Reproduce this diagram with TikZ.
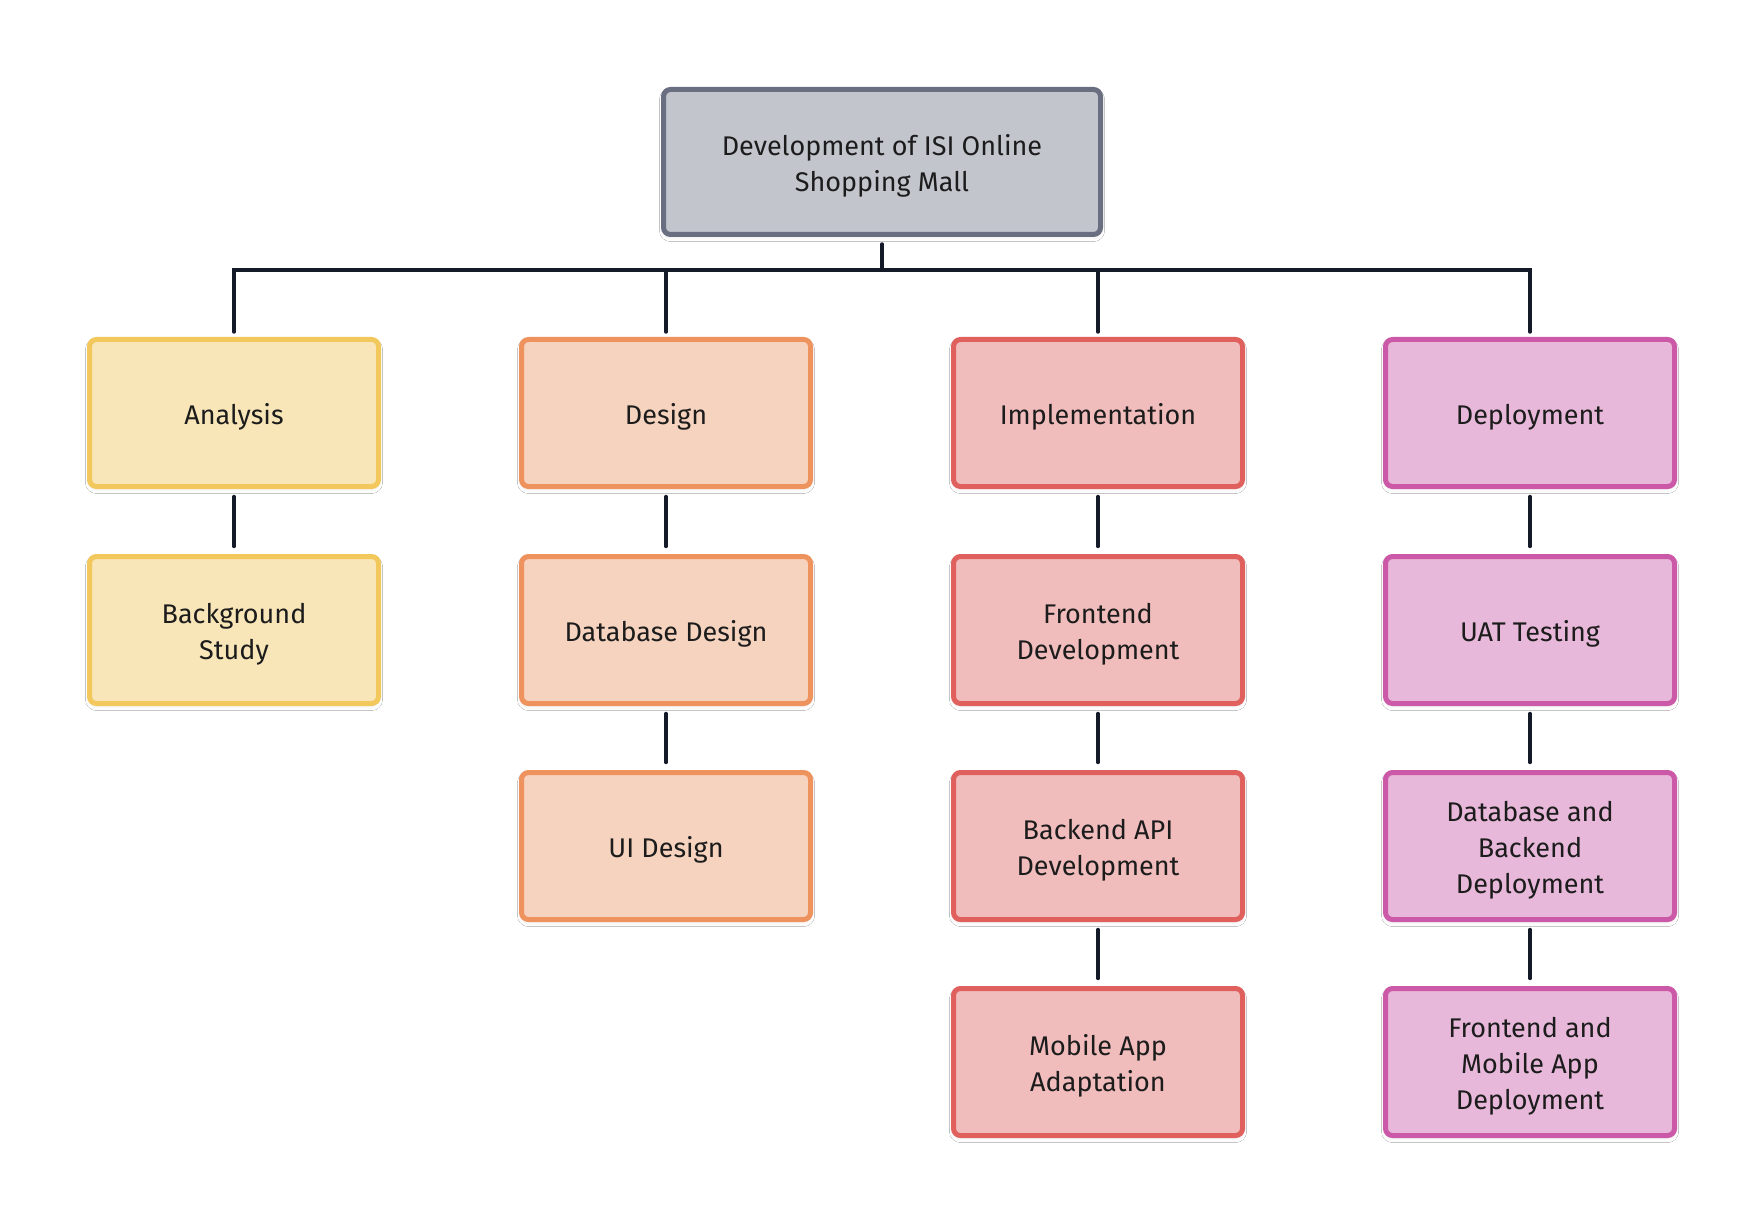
\documentclass[tikz,border=0pt]{standalone}
\usepackage{fontspec}
\setmainfont{Fira Sans}
\usetikzlibrary{shadows.blur}
\definecolor{rootfill}{HTML}{C2C5CC}
\definecolor{rootdraw}{HTML}{696E80}
\definecolor{yelfill}{HTML}{F9E6B8}
\definecolor{yeldraw}{HTML}{F2C75C}
\definecolor{orafill}{HTML}{F6D3BE}
\definecolor{oradraw}{HTML}{EE935E}
\definecolor{redfill}{HTML}{F0BDBC}
\definecolor{reddraw}{HTML}{DF605C}
\definecolor{pinkfill}{HTML}{E8B8DA}
\definecolor{pinkdraw}{HTML}{CC58A8}
\definecolor{linecol}{HTML}{141A28}
\definecolor{textcol}{HTML}{1C1C1C}
\newcommand{\boxlbl}[1]{\raisebox{-2pt}[\height][\depth]{\begin{tabular}{@{}c@{}}#1\end{tabular}}}
\tikzset{
  wbox/.style={rectangle, rounded corners=3.5pt, line width=2.5pt, inner sep=0pt, outer sep=0pt,
    minimum width=144.5pt, minimum height=73.5pt, text=textcol,
    font=\fontsize{13.5pt}{18pt}\selectfont,
    blur shadow={shadow xshift=0pt, shadow yshift=-1.5pt, shadow blur radius=2pt, shadow opacity=8}},
  rootbox/.style={wbox, fill=rootfill, draw=rootdraw, minimum width=218.5pt, minimum height=72.5pt},
  ybox/.style={wbox, fill=yelfill, draw=yeldraw},
  obox/.style={wbox, fill=orafill, draw=oradraw},
  rbox/.style={wbox, fill=redfill, draw=reddraw},
  pbox/.style={wbox, fill=pinkfill, draw=pinkdraw},
  conn/.style={draw=linecol, line width=1.7pt, line cap=round, line join=miter},
}
\begin{document}
\begin{tikzpicture}[x=0.5pt, y=-0.5pt]
\useasboundingbox[fill=white] (0,0) rectangle (1764,1224);

\node[rootbox] (root) at (882,162) {\boxlbl{Development of ISI Online\\Shopping Mall}};

\node[ybox] (a1) at (234,413) {\boxlbl{Analysis}};
\node[obox] (b1) at (666,413) {\boxlbl{Design}};
\node[rbox] (c1) at (1098,413) {\boxlbl{Implementation}};
\node[pbox] (d1) at (1530,413) {\boxlbl{Deployment}};

\node[ybox] (a2) at (234,630) {\boxlbl{Background\\Study}};
\node[obox] (b2) at (666,630) {\boxlbl{Database Design}};
\node[rbox] (c2) at (1098,630) {\boxlbl{Frontend\\Development}};
\node[pbox] (d2) at (1530,630) {\boxlbl{UAT Testing}};

\node[obox] (b3) at (666,846) {\boxlbl{UI Design}};
\node[rbox] (c3) at (1098,846) {\boxlbl{Backend API\\Development}};
\node[pbox] (d3) at (1530,846) {\boxlbl{Database and\\Backend\\Deployment}};

\node[rbox] (c4) at (1098,1062) {\boxlbl{Mobile App\\Adaptation}};
\node[pbox] (d4) at (1530,1062) {\boxlbl{Frontend and\\Mobile App\\Deployment}};

\coordinate (bar) at (882,270);

\draw[conn] ([yshift=-4.75pt]root.south) -- (root.south |- bar);
\draw[conn] ([yshift=3.75pt]a1.north) -- (a1.north |- bar) -- (d1.north |- bar) -- ([yshift=3.75pt]d1.north);
\draw[conn] (b1.north |- bar) -- ([yshift=3.75pt]b1.north);
\draw[conn] (c1.north |- bar) -- ([yshift=3.75pt]c1.north);

\foreach \u/\v in {a1/a2, b1/b2, b2/b3, c1/c2, c2/c3, c3/c4, d1/d2, d2/d3, d3/d4}{
  \draw[conn] ([yshift=-5pt]\u.south) -- ([yshift=5pt]\v.north);
}
\end{tikzpicture}
\end{document}
